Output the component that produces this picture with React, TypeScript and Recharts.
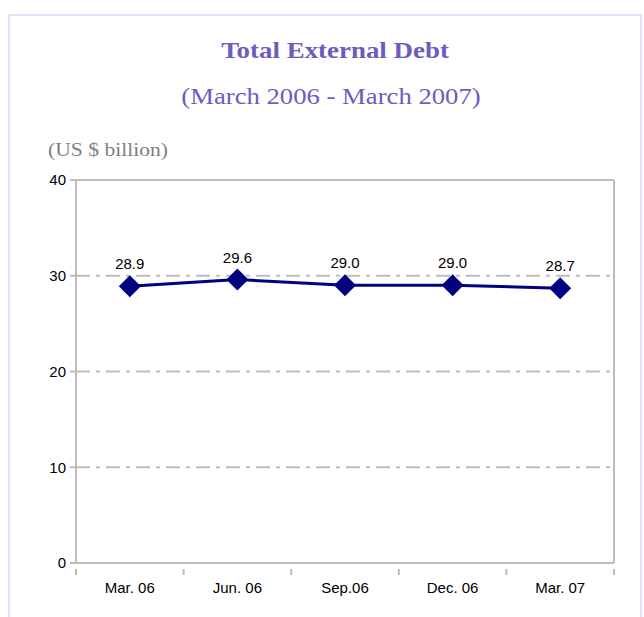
import React from 'react';
import { LineChart, Line, XAxis, YAxis, CartesianGrid, ReferenceLine, LabelList } from 'recharts';

const categories = ['Mar. 06', 'Jun. 06', 'Sep.06', 'Dec. 06', 'Mar. 07'];
const debtValues = [28.9, 29.6, 29.0, 29.0, 28.7];
const yTicks = [0, 10, 20, 30, 40];

// points sit in the middle of each category band
const data = categories.map((name, i) => ({ x: i + 0.5, name, value: debtValues[i] }));
const xTicks: number[] = [];
for (let i = 0; i <= categories.length; i++) {
  xTicks.push(i);
  if (i < categories.length) xTicks.push(i + 0.5);
}

const GRID = '#bdbdbd';
const NAVY = '#000080';
const SANS = 'Liberation Sans, Arial, sans-serif';
const SERIF = '"Liberation Serif", "Times New Roman", serif';

const Diamond = (props: any) => {
  const { cx, cy } = props;
  if (cx == null || cy == null) return null;
  const r = 11;
  return <path d={`M${cx},${cy - r}L${cx + r},${cy}L${cx},${cy + r}L${cx - r},${cy}Z`} fill={NAVY} />;
};

const XTick = (props: any) => {
  const { x, y, payload } = props;
  const v = payload.value;
  if (Number.isInteger(v)) {
    return <line x1={x} x2={x} y1={y - 2} y2={y + 4} stroke={GRID} strokeWidth={2} />;
  }
  return (
    <text x={x} y={y + 22} textAnchor="middle" fontSize={15} fill="#000" fontFamily={SANS}>
      {categories[Math.floor(v)]}
    </text>
  );
};

export default function App() {
  return (
    <div style={{ position: 'absolute', left: 0, top: 0, width: 644, height: 617, background: '#fff', overflow: 'hidden' }}>
      <div style={{ position: 'absolute', left: 8, top: 14, width: 630, height: 640, border: '2px solid #dfdff5' }} />
      <div style={{ position: 'absolute', left: 335 - 150, width: 300, top: 38, textAlign: 'center', fontFamily: SERIF, fontWeight: 'bold', fontSize: 23, color: '#6b5cc0', transform: 'scaleX(1.17)' }}>
        Total External Debt
      </div>
      <div style={{ position: 'absolute', left: 331 - 200, width: 400, top: 84, textAlign: 'center', fontFamily: SERIF, fontSize: 23, color: '#6b5cc0', transform: 'scaleX(1.16)' }}>
        (March 2006 - March 2007)
      </div>
      <div style={{ position: 'absolute', left: 48, top: 140, fontFamily: SERIF, fontSize: 18, color: '#808080', transform: 'scaleX(1.2)', transformOrigin: 'left center' }}>
        (US $ billion)
      </div>
      <div style={{ position: 'absolute', left: 0, top: 0 }}>
        <LineChart width={644} height={617} data={data} margin={{ top: 180, right: 30, bottom: 0, left: 0 }}>
          <CartesianGrid vertical={false} stroke={GRID} strokeWidth={2} strokeDasharray="14 6 4 6" />
          <XAxis
            dataKey="x"
            type="number"
            domain={[0, categories.length]}
            ticks={xTicks}
            interval={0}
            height={54}
            tickLine={false}
            axisLine={{ stroke: GRID, strokeWidth: 2 }}
            tick={<XTick />}
          />
          <YAxis
            domain={[0, 40]}
            ticks={yTicks}
            width={76}
            tickSize={6}
            tickMargin={4}
            tickLine={{ stroke: GRID, strokeWidth: 2 }}
            axisLine={{ stroke: GRID, strokeWidth: 2 }}
            tick={{ fontSize: 15, fill: '#000', fontFamily: SANS }}
          />
          <ReferenceLine y={40} stroke={GRID} strokeWidth={2} />
          <ReferenceLine x={categories.length} stroke={GRID} strokeWidth={2} />
          <Line
            type="linear"
            dataKey="value"
            stroke={NAVY}
            strokeWidth={3}
            dot={<Diamond />}
            activeDot={false}
            isAnimationActive={false}
          >
            <LabelList
              dataKey="value"
              position="top"
              offset={17}
              formatter={(v: any) => Number(v).toFixed(1)}
              style={{ fontSize: 15, fill: '#000', fontFamily: SANS }}
            />
          </Line>
        </LineChart>
      </div>
    </div>
  );
}
